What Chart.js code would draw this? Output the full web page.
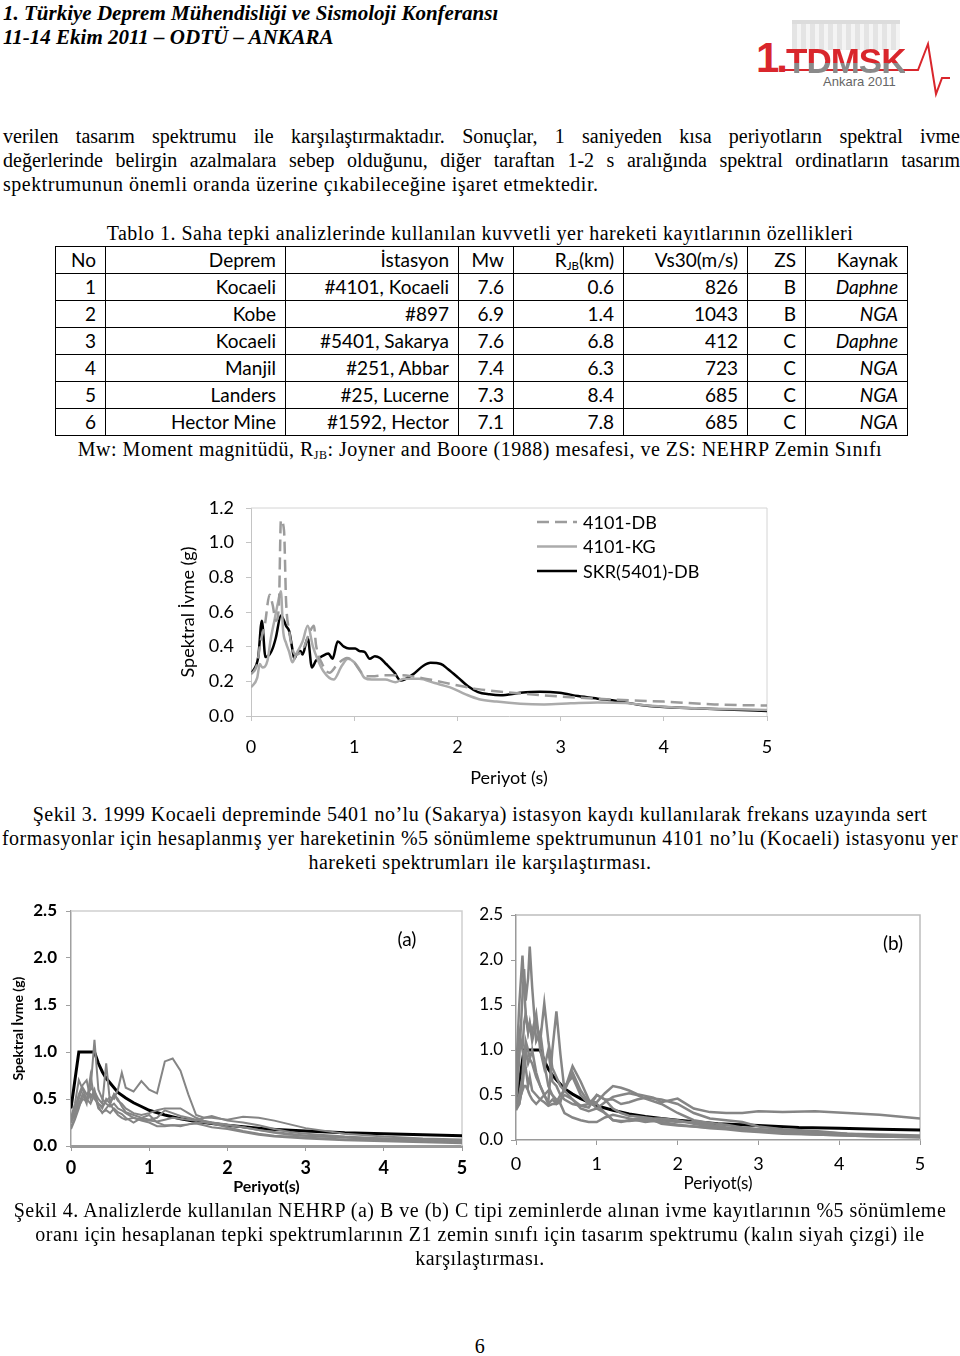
<!DOCTYPE html>
<html lang="tr">
<head>
<meta charset="utf-8">
<title>Şekil 3 ve Şekil 4</title>
<script src="https://cdn.jsdelivr.net/npm/chart.js@4.4.0/dist/chart.umd.min.js"></script>
<style>
  html, body { margin: 0; padding: 0; background: #fff; }
  body { width: 960px; height: 1356px; position: relative; overflow: hidden;
         font-family: "Liberation Serif", "Times New Roman", serif; color: #000; }
  .t { position: absolute; white-space: nowrap; font-size: 20px; line-height: 24px; letter-spacing: 0.5px; }
  .orta { left: 0; width: 960px; text-align: center; }
  .yasla { left: 3px; width: 957px; text-align: justify; text-align-last: justify; letter-spacing: 0; }
  .baslik { font-style: italic; font-weight: bold; font-size: 21px; left: 3px; letter-spacing: 0; }
  .grafik { position: absolute; }

  /* logo */
  #logo { position: absolute; left: 750px; top: 14px; width: 200px; height: 86px; }
  #logo .bina { position: absolute; left: 42px; top: 6px; width: 108px; height: 26px;
    background: repeating-linear-gradient(90deg, #e4e4e4 0 5px, #f4f4f4 5px 9px);
    border-top: 4px solid #dcdcdc; }
  #logo .bir { position: absolute; left: 6px; top: 20px; font: bold 42px "Liberation Sans", sans-serif;
    color: #d9262c; letter-spacing: -3px; }
  #logo .tdmsk { position: absolute; left: 36px; top: 27px; font: bold 35px "Liberation Sans", sans-serif;
    letter-spacing: -1px; background: linear-gradient(#d9262c 0 55%, #8a8a8a 55% 100%);
    -webkit-background-clip: text; background-clip: text; color: transparent; }
  #logo .ankara { position: absolute; left: 73px; top: 60px; font: 13px "Liberation Sans", sans-serif; color: #666; }
  #logo svg { position: absolute; left: 0; top: 0; }

  /* tablo */
  #tablo { position: absolute; left: 55px; top: 246px; width: 852px; table-layout: fixed; border-collapse: collapse;
           font-family: Lato, "Open Sans", sans-serif; font-size: 19px; }
  #tablo tr { height: 27px; }
  #tablo td { border: 1.5px solid #000; padding: 0 9px 0 0; text-align: right; line-height: 24px; overflow: hidden; white-space: nowrap; }
  #tablo td.k { font-style: italic; }
  sub { font-size: 0.6em; vertical-align: -0.25em; line-height: 0; }
</style>
</head>
<body>

<div class="t baslik" style="top:1px">1. Türkiye Deprem Mühendisliği ve Sismoloji Konferansı</div>
<div class="t baslik" style="top:25px">11-14 Ekim 2011 – ODTÜ – ANKARA</div>

<div id="logo">
  <div class="bina"></div>
  <svg width="200" height="86">
    <polyline points="30,56 155,56 168,56 178,30 186,80 192,64 200,64" fill="none" stroke="#d9262c" stroke-width="2"/>
  </svg>
  <span class="bir">1.</span><span class="tdmsk">TDMSK</span>
  <span class="ankara">Ankara 2011</span>
</div>

<div class="t yasla" style="top:124px">verilen tasarım spektrumu ile karşılaştırmaktadır. Sonuçlar, 1 saniyeden kısa periyotların spektral ivme</div>
<div class="t yasla" style="top:148px">değerlerinde belirgin azalmalara sebep olduğunu, diğer taraftan 1-2 s aralığında spektral ordinatların tasarım</div>
<div class="t" style="top:172px;left:3px">spektrumunun önemli oranda üzerine çıkabileceğine işaret etmektedir.</div>

<div class="t orta" style="top:221px">Tablo 1. Saha tepki analizlerinde kullanılan kuvvetli yer hareketi kayıtlarının özellikleri</div>

<table id="tablo">
  <colgroup><col style="width:50px"><col style="width:180px"><col style="width:173px"><col style="width:55px"><col style="width:110px"><col style="width:124px"><col style="width:58px"><col style="width:102px"></colgroup>
  <tr><td>No</td><td>Deprem</td><td>İstasyon</td><td>Mw</td><td>R<sub>JB</sub>(km)</td><td>Vs30(m/s)</td><td>ZS</td><td>Kaynak</td></tr>
  <tr><td>1</td><td>Kocaeli</td><td>#4101, Kocaeli</td><td>7.6</td><td>0.6</td><td>826</td><td>B</td><td class="k">Daphne</td></tr>
  <tr><td>2</td><td>Kobe</td><td>#897</td><td>6.9</td><td>1.4</td><td>1043</td><td>B</td><td class="k">NGA</td></tr>
  <tr><td>3</td><td>Kocaeli</td><td>#5401, Sakarya</td><td>7.6</td><td>6.8</td><td>412</td><td>C</td><td class="k">Daphne</td></tr>
  <tr><td>4</td><td>Manjil</td><td>#251, Abbar</td><td>7.4</td><td>6.3</td><td>723</td><td>C</td><td class="k">NGA</td></tr>
  <tr><td>5</td><td>Landers</td><td>#25, Lucerne</td><td>7.3</td><td>8.4</td><td>685</td><td>C</td><td class="k">NGA</td></tr>
  <tr><td>6</td><td>Hector Mine</td><td>#1592, Hector</td><td>7.1</td><td>7.8</td><td>685</td><td>C</td><td class="k">NGA</td></tr>
</table>

<div class="t orta" style="top:437px">Mw: Moment magnitüdü, R<sub>JB</sub>: Joyner and Boore (1988) mesafesi, ve ZS: NEHRP Zemin Sınıfı</div>

<div class="grafik" style="left:170px;top:495px"><canvas id="sekil3" width="610" height="300"></canvas></div>

<div class="t orta" style="top:802px">Şekil 3. 1999 Kocaeli depreminde 5401 no’lu (Sakarya) istasyon kaydı kullanılarak frekans uzayında sert</div>
<div class="t orta" style="top:826px">formasyonlar için hesaplanmış yer hareketinin %5 sönümleme spektrumunun 4101 no’lu (Kocaeli) istasyonu yer</div>
<div class="t orta" style="top:850px">hareketi spektrumları ile karşılaştırması.</div>

<div class="grafik" style="left:0px;top:895px"><canvas id="sekil4a" width="480" height="305"></canvas></div>
<div class="grafik" style="left:465px;top:895px"><canvas id="sekil4b" width="495" height="305"></canvas></div>

<div class="t orta" style="top:1198px">Şekil 4. Analizlerde kullanılan NEHRP (a) B ve (b) C tipi zeminlerde alınan ivme kayıtlarının %5 sönümleme</div>
<div class="t orta" style="top:1222px">oranı için hesaplanan tepki spektrumlarının Z1 zemin sınıfı için tasarım spektrumu (kalın siyah çizgi) ile</div>
<div class="t orta" style="top:1246px">karşılaştırması.</div>

<div class="t orta" style="top:1334px">6</div>

<script>
// Şekil 3: 4101 (Kocaeli) ve 5401 (Sakarya) spektrumları
const periyotDB = [0, 0.06, 0.09, 0.135, 0.18, 0.21, 0.24, 0.27, 0.29, 0.32, 0.34, 0.37, 0.40, 0.43, 0.50, 0.56, 0.61, 0.63, 0.69, 0.76, 0.84, 0.93, 0.99, 1.07, 1.12, 1.20, 1.29, 1.44, 1.55, 1.78, 1.97, 2.20, 2.46, 2.80, 3.17, 3.55, 4.00, 4.49, 5.00];
const ivmeDB = [0.24, 0.30, 0.42, 0.53, 0.70, 0.64, 0.55, 0.63, 1.13, 1.07, 0.66, 0.49, 0.39, 0.355, 0.38, 0.47, 0.52, 0.41, 0.30, 0.25, 0.30, 0.335, 0.315, 0.25, 0.23, 0.23, 0.235, 0.235, 0.23, 0.205, 0.18, 0.155, 0.138, 0.121, 0.106, 0.094, 0.083, 0.067, 0.06];

const periyotKG = [0, 0.06, 0.085, 0.11, 0.16, 0.19, 0.23, 0.26, 0.29, 0.31, 0.34, 0.37, 0.40, 0.44, 0.50, 0.55, 0.60, 0.65, 0.70, 0.80, 0.88, 0.94, 1.00, 1.05, 1.10, 1.17, 1.30, 1.40, 1.48, 1.63, 1.78, 1.93, 2.08, 2.21, 2.38, 2.61, 2.84, 3.10, 3.36, 3.63, 3.85, 4.11, 4.49, 5.00];
const ivmeKG = [0.165, 0.22, 0.30, 0.28, 0.32, 0.44, 0.56, 0.65, 0.72, 0.50, 0.42, 0.37, 0.31, 0.36, 0.43, 0.52, 0.40, 0.32, 0.26, 0.21, 0.29, 0.33, 0.31, 0.27, 0.22, 0.21, 0.21, 0.195, 0.215, 0.215, 0.19, 0.165, 0.125, 0.097, 0.083, 0.071, 0.067, 0.073, 0.078, 0.075, 0.06, 0.049, 0.042, 0.035];

const periyotSKR = [0.01, 0.07, 0.105, 0.14, 0.18, 0.21, 0.24, 0.29, 0.32, 0.34, 0.37, 0.40, 0.42, 0.44, 0.48, 0.50, 0.55, 0.59, 0.63, 0.69, 0.75, 0.79, 0.84, 0.90, 0.95, 1.01, 1.05, 1.10, 1.15, 1.20, 1.25, 1.31, 1.39, 1.45, 1.57, 1.67, 1.74, 1.84, 1.91, 2.01, 2.10, 2.20, 2.31, 2.42, 2.61, 2.80, 2.99, 3.17, 3.36, 3.55, 3.74, 4.00, 4.30, 4.68, 5.00];
const ivmeSKR = [0.25, 0.34, 0.55, 0.34, 0.355, 0.39, 0.45, 0.58, 0.55, 0.52, 0.49, 0.39, 0.33, 0.355, 0.375, 0.355, 0.45, 0.28, 0.32, 0.345, 0.36, 0.33, 0.43, 0.40, 0.39, 0.39, 0.375, 0.37, 0.33, 0.345, 0.335, 0.30, 0.25, 0.205, 0.24, 0.29, 0.307, 0.30, 0.27, 0.22, 0.173, 0.138, 0.125, 0.12, 0.134, 0.14, 0.134, 0.115, 0.10, 0.086, 0.067, 0.052, 0.044, 0.036, 0.029];

const ekseniX = [0, 1, 2, 3, 4, 5];
const ekseniY3 = [0, 0.2, 0.4, 0.6, 0.8, 1.0, 1.2];
const ekseniY4 = [0, 0.5, 1.0, 1.5, 2.0, 2.5];

// Z1 tasarım spektrumu (kalın siyah çizgi)
const tasarimT = [0, 0.1, 0.3, 0.35, 0.4, 0.45, 0.5, 0.6, 0.7, 0.8, 0.9, 1.0, 1.2, 1.4, 1.6, 1.8, 2.0, 2.5, 3.0, 3.5, 4.0, 4.5, 5.0];
const tasarimSa = [0.4, 1.0, 1.0, 0.88, 0.79, 0.72, 0.67, 0.57, 0.51, 0.46, 0.42, 0.38, 0.33, 0.29, 0.26, 0.24, 0.22, 0.18, 0.16, 0.14, 0.13, 0.12, 0.11];

// Şekil 4a: B tipi zemin kayıtları
const periyotA = [0, 0.05, 0.1, 0.15, 0.2, 0.25, 0.3, 0.35, 0.4, 0.45, 0.5, 0.55, 0.6, 0.65, 0.7, 0.8, 0.9, 1.0, 1.1, 1.2, 1.3, 1.4, 1.5, 1.6, 1.7, 1.8, 2.0, 2.2, 2.4, 2.6, 2.8, 3.0, 3.5, 4.0, 4.5, 5.0];
const kayitA1 = [0.28, 0.32, 0.42, 0.5, 0.48, 0.55, 0.52, 0.45, 0.42, 0.48, 0.52, 0.5, 0.6, 0.78, 0.62, 0.58, 0.69, 0.6, 0.56, 0.9, 0.93, 0.8, 0.55, 0.33, 0.3, 0.3, 0.28, 0.31, 0.3, 0.27, 0.23, 0.19, 0.13, 0.1, 0.08, 0.07];
const kayitA2 = [0.25, 0.35, 0.5, 0.62, 0.55, 0.6, 1.13, 0.6, 0.5, 0.45, 0.42, 0.45, 0.4, 0.38, 0.35, 0.3, 0.28, 0.27, 0.26, 0.28, 0.3, 0.29, 0.28, 0.27, 0.3, 0.32, 0.27, 0.25, 0.22, 0.18, 0.15, 0.13, 0.1, 0.08, 0.06, 0.05];
const kayitA3 = [0.2, 0.3, 0.45, 0.55, 0.5, 0.62, 0.58, 0.5, 0.45, 0.88, 0.45, 0.55, 0.48, 0.45, 0.4, 0.35, 0.33, 0.35, 0.38, 0.4, 0.4, 0.4, 0.35, 0.3, 0.27, 0.25, 0.22, 0.2, 0.17, 0.15, 0.13, 0.11, 0.09, 0.07, 0.05, 0.04];
const kayitA4 = [0.3, 0.45, 0.7, 0.6, 0.5, 0.45, 0.55, 0.4, 0.36, 0.38, 0.35, 0.4, 0.36, 0.34, 0.3, 0.25, 0.3, 0.33, 0.25, 0.22, 0.22, 0.22, 0.23, 0.25, 0.25, 0.24, 0.2, 0.16, 0.13, 0.11, 0.1, 0.09, 0.07, 0.06, 0.05, 0.04];
const kayitA5 = [0.25, 0.4, 0.55, 0.65, 0.7, 0.5, 0.6, 0.42, 0.35, 0.4, 0.45, 0.38, 0.33, 0.3, 0.28, 0.3, 0.27, 0.25, 0.21, 0.21, 0.22, 0.21, 0.23, 0.24, 0.22, 0.2, 0.18, 0.15, 0.12, 0.1, 0.09, 0.08, 0.06, 0.05, 0.04, 0.03];
const kayitA6 = [0.18, 0.28, 0.4, 0.55, 0.45, 0.75, 0.5, 0.45, 0.4, 0.5, 0.45, 0.55, 0.5, 0.42, 0.36, 0.33, 0.3, 0.28, 0.3, 0.38, 0.35, 0.32, 0.3, 0.28, 0.26, 0.25, 0.23, 0.2, 0.17, 0.14, 0.12, 0.11, 0.09, 0.08, 0.07, 0.06];

// Şekil 4b: C tipi zemin kayıtları
const periyotB = [0, 0.04, 0.08, 0.1, 0.12, 0.15, 0.17, 0.2, 0.25, 0.3, 0.35, 0.4, 0.45, 0.5, 0.55, 0.6, 0.7, 0.8, 0.9, 1.0, 1.1, 1.2, 1.3, 1.4, 1.5, 1.6, 1.7, 1.8, 2.0, 2.2, 2.4, 2.6, 2.8, 3.0, 3.3, 3.7, 4.1, 4.5, 5.0];
const kayitB1 = [0.4, 0.9, 1.6, 1.9, 1.55, 1.8, 2.15, 1.7, 1.1, 1.2, 0.85, 0.6, 0.5, 0.42, 0.5, 0.55, 0.75, 0.55, 0.42, 0.42, 0.52, 0.6, 0.58, 0.55, 0.51, 0.49, 0.47, 0.42, 0.46, 0.35, 0.31, 0.3, 0.3, 0.32, 0.31, 0.32, 0.3, 0.28, 0.24];
const kayitB2 = [0.7, 1.5, 2.05, 1.7, 1.4, 1.2, 1.3, 1.2, 1.4, 1.0, 0.8, 1.0, 0.65, 0.6, 0.5, 0.45, 0.4, 0.38, 0.36, 0.5, 0.45, 0.35, 0.3, 0.27, 0.26, 0.25, 0.24, 0.24, 0.22, 0.18, 0.15, 0.13, 0.11, 0.1, 0.09, 0.08, 0.06, 0.05, 0.04];
const kayitB3 = [0.35, 0.4, 0.6, 0.9, 1.1, 1.0, 0.9, 0.85, 0.7, 0.6, 0.5, 0.42, 1.0, 1.43, 0.95, 0.55, 0.45, 0.35, 0.32, 0.35, 0.42, 0.48, 0.5, 0.52, 0.5, 0.46, 0.43, 0.4, 0.3, 0.22, 0.19, 0.17, 0.14, 0.12, 0.1, 0.09, 0.07, 0.06, 0.05];
const kayitB4 = [0.5, 1.2, 1.0, 1.3, 1.4, 1.2, 1.3, 1.1, 1.3, 1.1, 1.52, 1.1, 0.8, 0.7, 0.6, 0.55, 0.82, 0.65, 0.45, 0.35, 0.3, 0.22, 0.21, 0.21, 0.22, 0.22, 0.21, 0.2, 0.17, 0.15, 0.13, 0.12, 0.1, 0.09, 0.07, 0.06, 0.05, 0.04, 0.03];
const kayitB5 = [0.33, 0.4, 0.6, 0.8, 1.0, 0.85, 0.9, 1.0, 0.75, 0.6, 0.5, 0.4, 0.45, 0.4, 0.42, 0.6, 0.7, 0.5, 0.4, 0.4, 0.3, 0.22, 0.2, 0.22, 0.24, 0.23, 0.22, 0.18, 0.16, 0.15, 0.14, 0.14, 0.13, 0.12, 0.1, 0.08, 0.06, 0.05, 0.04];
const kayitB6 = [0.4, 0.5, 0.7, 1.0, 0.8, 0.6, 0.7, 0.55, 0.5, 0.45, 0.42, 0.38, 0.4, 0.4, 0.45, 0.5, 0.45, 0.38, 0.4, 0.5, 0.45, 0.45, 0.4, 0.42, 0.45, 0.47, 0.46, 0.45, 0.4, 0.3, 0.24, 0.22, 0.2, 0.15, 0.12, 0.1, 0.07, 0.05, 0.04];
const kayitB7 = [0.35, 0.45, 0.55, 0.6, 0.6, 0.55, 0.5, 0.45, 0.4, 0.45, 0.5, 0.55, 0.5, 0.45, 0.4, 0.3, 0.25, 0.22, 0.2, 0.2, 0.25, 0.28, 0.26, 0.24, 0.22, 0.2, 0.21, 0.22, 0.2, 0.2, 0.17, 0.14, 0.12, 0.1, 0.08, 0.06, 0.05, 0.04, 0.03];

const noktalar = (xs, ys) => xs.map((x, i) => ({ x: x, y: ys[i] }));

// çizim alanının üst ve sağ kenarı
const cerceve = {
  id: "cerceve",
  beforeDatasetsDraw(chart, args, opts) {
    const a = chart.chartArea;
    const ctx = chart.ctx;
    ctx.save();
    ctx.strokeStyle = opts.renk || "#d0d0d0";
    ctx.lineWidth = opts.kalinlik || 1;
    ctx.beginPath();
    ctx.moveTo(a.left, a.top);
    ctx.lineTo(a.right, a.top);
    ctx.lineTo(a.right, a.bottom);
    ctx.stroke();
    ctx.restore();
  }
};

// Şekil 3 lejantı (çizim alanının içinde, sağ üstte)
const lejant = {
  id: "lejant",
  afterDatasetsDraw(chart) {
    const ctx = chart.ctx;
    const a = chart.chartArea;
    ctx.save();
    ctx.font = "18px Lato";
    ctx.textBaseline = "middle";
    chart.data.datasets.forEach((ds, i) => {
      const y = a.top + 14 + i * 24.5;
      const x = a.left + 286;
      ctx.strokeStyle = ds.borderColor;
      ctx.lineWidth = ds.borderWidth;
      ctx.setLineDash(ds.borderDash || []);
      ctx.beginPath();
      ctx.moveTo(x, y);
      ctx.lineTo(x + 40, y);
      ctx.stroke();
      ctx.setLineDash([]);
      ctx.fillStyle = "#000";
      ctx.fillText(ds.label, x + 46, y + 1);
    });
    ctx.restore();
  }
};

// (a), (b) etiketleri
const etiket = {
  id: "etiket",
  afterDraw(chart, args, opts) {
    const ctx = chart.ctx;
    const a = chart.chartArea;
    ctx.save();
    ctx.font = "19px Lato";
    ctx.textAlign = "center";
    ctx.textBaseline = "middle";
    ctx.fillStyle = "#000";
    ctx.fillText(opts.yazi, a.right - opts.sagdan, a.top + 29);
    ctx.restore();
  }
};

function eksen(min, max, adim, secenek) {
  return {
    type: "linear",
    min: min,
    max: max,
    afterBuildTicks: s => { s.ticks = secenek.degerler.map(v => ({ value: v })); },
    ticks: {
      stepSize: adim,
      color: "#000",
      font: secenek.font,
      padding: secenek.padding,
      callback: secenek.bicim
    },
    grid: { drawOnChartArea: false, drawTicks: true, tickLength: 5, color: secenek.cizgi, lineWidth: 1 },
    border: { color: secenek.cizgi, width: secenek.kalinlik || 1 },
    title: secenek.baslik ? { display: true, text: secenek.baslik, color: "#000", font: secenek.baslikFont, padding: 0 } : { display: false },
    // eksen kutusunun boyutu sabit, etiket taşmaları için ek boşluk yok
    afterFit: s => {
      secenek.boyut(s);
      s.paddingTop = 0; s.paddingBottom = 0; s.paddingLeft = 0; s.paddingRight = 0;
    }
  };
}

// Şekil 3
new Chart(document.getElementById("sekil3"), {
  type: "line",
  data: {
    datasets: [
      { label: "4101-DB", data: noktalar(periyotDB, ivmeDB), borderColor: "#9c9c9c", borderWidth: 2.5, borderDash: [12, 6] },
      { label: "4101-KG", data: noktalar(periyotKG, ivmeKG), borderColor: "#ababab", borderWidth: 2.5 },
      { label: "SKR(5401)-DB", data: noktalar(periyotSKR, ivmeSKR), borderColor: "#000000", borderWidth: 2.5 }
    ]
  },
  options: {
    responsive: false,
    animation: false,
    events: [],
    elements: { point: { radius: 0 }, line: { cubicInterpolationMode: "monotone", fill: false } },
    layout: { padding: { left: 7, top: 13, right: 13, bottom: 6 } },
    plugins: { legend: { display: false }, tooltip: { enabled: false }, cerceve: { renk: "#d4d4d4" } },
    scales: {
      x: eksen(0, 5, 1, {
        degerler: ekseniX, font: { family: "Lato", size: 18 }, padding: 15, cizgi: "#c4c4c4",
        bicim: v => String(v), baslik: "Periyot (s)", baslikFont: { family: "Lato", size: 18 },
        boyut: s => { s.height = 73; }
      }),
      y: eksen(0, 1.2, 0.2, {
        degerler: ekseniY3, font: { family: "Lato", size: 18 }, padding: 12, cizgi: "#c4c4c4",
        bicim: v => v.toFixed(1), baslik: "Spektral İvme (g)", baslikFont: { family: "Lato", size: 18 },
        boyut: s => { s.width = 74; }
      })
    }
  },
  plugins: [cerceve, lejant]
});

// Şekil 4 için ortak veri kümesi
function kumeler(periyot, kayitlar, kalinlik) {
  const gri = kayitlar.map((k, i) => ({
    label: "Kayıt " + (i + 1), data: noktalar(periyot, k),
    borderColor: "#858585", borderWidth: kalinlik, tension: 0
  }));
  gri.push({ label: "Tasarım spektrumu (Z1)", data: noktalar(tasarimT, tasarimSa), borderColor: "#000", borderWidth: 3, tension: 0 });
  return gri;
}

// Şekil 4a
new Chart(document.getElementById("sekil4a"), {
  type: "line",
  data: { datasets: kumeler(periyotA, [kayitA1, kayitA2, kayitA3, kayitA4, kayitA5, kayitA6], 2) },
  options: {
    responsive: false,
    animation: false,
    events: [],
    elements: { point: { radius: 0 } },
    layout: { padding: { left: 10, top: 16, right: 18, bottom: 4 } },
    plugins: { legend: { display: false }, tooltip: { enabled: false }, cerceve: { renk: "#cfcfcf", kalinlik: 1.5 }, etiket: { yazi: "(a)", sagdan: 55 } },
    scales: {
      x: eksen(0, 5, 1, {
        degerler: ekseniX, font: { family: "Lato", size: 18, weight: "bold" }, padding: 6, cizgi: "#9a9a9a", kalinlik: 3,
        bicim: v => String(v), baslik: "Periyot(s)", baslikFont: { family: "Lato", size: 16, weight: "bold" },
        boyut: s => { s.height = 50; }
      }),
      y: eksen(0, 2.5, 0.5, {
        degerler: ekseniY4, font: { family: "Lato", size: 17, weight: "bold" }, padding: 9, cizgi: "#a0a0a0", kalinlik: 1.5,
        bicim: v => v.toFixed(1), baslik: "Spektral İvme (g)", baslikFont: { family: "Lato", size: 14, weight: "bold" },
        boyut: s => { s.width = 61; }
      })
    }
  },
  plugins: [cerceve, etiket]
});

// Şekil 4b
new Chart(document.getElementById("sekil4b"), {
  type: "line",
  data: { datasets: kumeler(periyotB, [kayitB1, kayitB2, kayitB3, kayitB4, kayitB5, kayitB6, kayitB7], 2.5) },
  options: {
    responsive: false,
    animation: false,
    events: [],
    elements: { point: { radius: 0 } },
    layout: { padding: { left: 0, top: 20, right: 40, bottom: 6 } },
    plugins: { legend: { display: false }, tooltip: { enabled: false }, cerceve: { renk: "#bdbdbd", kalinlik: 1.5 }, etiket: { yazi: "(b)", sagdan: 27 } },
    scales: {
      x: eksen(0, 5, 1, {
        degerler: ekseniX, font: { family: "Lato", size: 18 }, padding: 8, cizgi: "#9a9a9a", kalinlik: 1.5,
        bicim: v => String(v), baslik: "Periyot(s)", baslikFont: { family: "Lato", size: 17 },
        boyut: s => { s.height = 54; }
      }),
      y: eksen(0, 2.5, 0.5, {
        degerler: ekseniY4, font: { family: "Lato", size: 17 }, padding: 8, cizgi: "#9a9a9a", kalinlik: 1.5,
        bicim: v => v.toFixed(1),
        boyut: s => { s.width = 51; }
      })
    }
  },
  plugins: [cerceve, etiket]
});
</script>
</body>
</html>
